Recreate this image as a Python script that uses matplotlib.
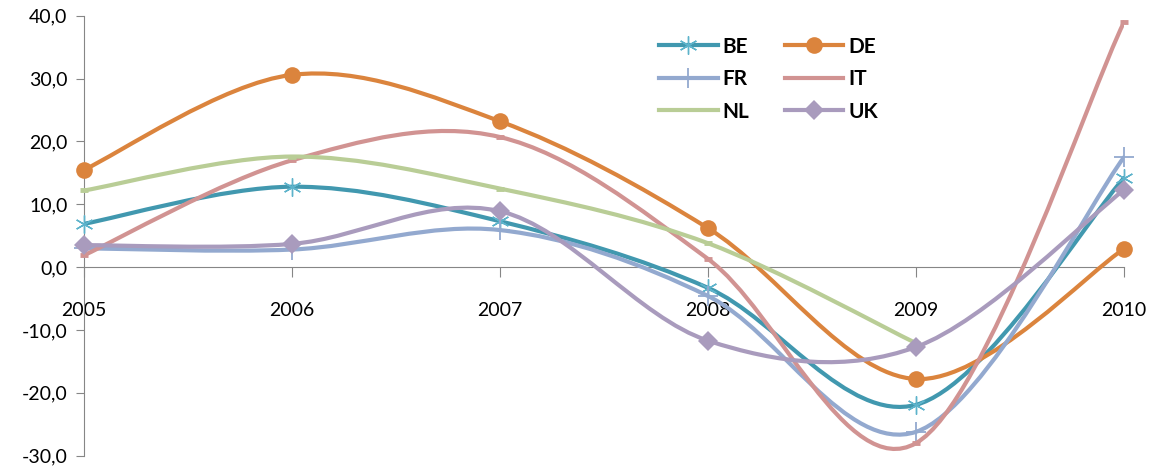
import matplotlib
matplotlib.use("Agg")
import matplotlib.pyplot as plt
from matplotlib.path import Path
from matplotlib.patches import PathPatch
from matplotlib.lines import Line2D


years = [2005, 2006, 2007, 2008, 2009, 2010]

be = [6.9, 12.8, 7.3, -3.3, -21.9, 14.2]
de = [15.5, 30.6, 23.2, 6.2, -17.8, 2.9]
fr = [3.0, 2.8, 5.9, -4.6, -26.2, 17.5]
it = [1.9, 17.0, 20.7, 1.3, -28.0, 39.0]
nl = [12.2, 17.6, 12.5, 3.8, -12.1, None]
uk = [3.5, 3.7, 8.9, -11.7, -12.7, 12.3]

series_names = ["BE", "DE", "FR", "IT", "NL", "UK"]
series_values = [be, de, fr, it, nl, uk]

colors = ["#4198AF", "#DB843D", "#93A9CF", "#D19392", "#B9CD96", "#A99BBD"]
marker_colors = ["#5DB3CB", "#DB843D", "#93A9CF", "#D19392", "#B9CD96", "#A99BBD"]


# =========================================================
# Helpers
# =========================================================

def smooth_path(xs, ys):
    # Excel-style smoothed line: cubic bezier through the points
    pts = [(x, y) for x, y in zip(xs, ys) if y is not None]
    verts = [pts[0]]
    codes = [Path.MOVETO]
    n = len(pts)
    for i in range(n - 1):
        p0 = pts[i - 1] if i > 0 else pts[i]
        p1 = pts[i]
        p2 = pts[i + 1]
        p3 = pts[i + 2] if i + 2 < n else pts[i + 1]
        c1 = (p1[0] + (p2[0] - p0[0]) / 6, p1[1] + (p2[1] - p0[1]) / 6)
        c2 = (p2[0] - (p3[0] - p1[0]) / 6, p2[1] - (p3[1] - p1[1]) / 6)
        verts += [c1, c2, p2]
        codes += [Path.CURVE4] * 3
    return Path(verts, codes)


def fmt(v):
    return f"{v:.1f}".replace(".", ",")


plt.rcParams["font.family"] = ["Lato", "DejaVu Sans"]

fig = plt.figure(figsize=(11.53, 4.68), dpi=100)
ax = fig.add_axes([0.0729, 0.0263, 0.902, 0.940])

markers = [(6, 2, 0), "o", "+", "_", "_", "D"]
msizes = [13, 12, 15, 6, 6, 10]
mews = [1.0, 0, 1.3, 3.5, 3.5, 0]

handles = []
for k, (name, vals) in enumerate(zip(series_names, series_values)):
    path = smooth_path(years, vals)
    ax.add_patch(PathPatch(path, fill=False, edgecolor=colors[k],
                           lw=3.0, zorder=3 + k, capstyle="round",
                           joinstyle="round"))
    xs = [x for x, y in zip(years, vals) if y is not None]
    ys = [y for y in vals if y is not None]
    ax.plot(xs, ys, linestyle="none", marker=markers[k],
            markersize=msizes[k], markerfacecolor=marker_colors[k],
            markeredgecolor=marker_colors[k], markeredgewidth=mews[k],
            zorder=3 + k + 0.5, clip_on=False)
    leg_marker = markers[k] if k not in (3, 4) else "None"
    handles.append(Line2D([], [], color=colors[k], lw=3.0,
                          marker=leg_marker, markersize=msizes[k],
                          markerfacecolor=marker_colors[k],
                          markeredgecolor=marker_colors[k],
                          markeredgewidth=mews[k]))

ax.set_xlim(2005, 2010)
ax.set_ylim(-30, 40)

for s in ["top", "right"]:
    ax.spines[s].set_visible(False)
ax.spines["bottom"].set_position(("data", 0))
ax.spines["bottom"].set_color("#868686")
ax.spines["left"].set_color("#868686")
ax.spines["bottom"].set_zorder(2)

ax.set_xticks(years)
ax.set_xticklabels([str(y) for y in years])
ax.set_yticks(range(-30, 41, 10))
ax.set_yticklabels([fmt(v) for v in range(-30, 41, 10)])

ax.tick_params(axis="x", direction="out", length=7, color="#868686",
               labelsize=14, pad=18)
ax.tick_params(axis="y", direction="out", length=6, color="#868686",
               labelsize=14, pad=6)

# legend in row order: BE DE / FR IT / NL UK
order = [0, 2, 4, 1, 3, 5]
leg = ax.legend([handles[i] for i in order],
                [series_names[i] for i in order],
                ncol=2, loc="upper left",
                bbox_to_anchor=(0.535, 0.995),
                frameon=False, handlelength=2.8, handletextpad=0.25,
                columnspacing=1.7, labelspacing=0.6,
                prop={"weight": "bold", "size": 15})

fig.savefig("out.png", dpi=100)
